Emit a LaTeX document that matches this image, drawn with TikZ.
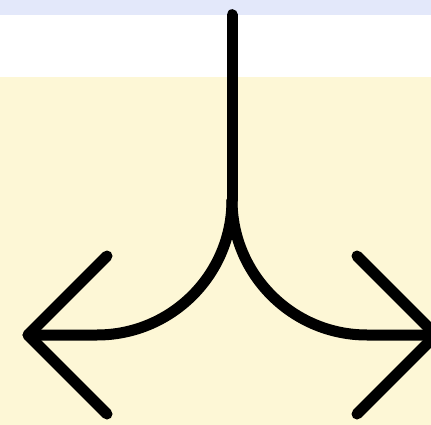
\documentclass[tikz,border=0pt]{standalone}
\usetikzlibrary{calc}
\definecolor{topband}{RGB}{227,232,250}
\definecolor{paper}{RGB}{253,247,214}
\definecolor{ink}{RGB}{0,0,0}
\tikzset{stroke/.style={draw=ink,line width=11pt,line cap=round,line join=round}}
\begin{document}
\begin{tikzpicture}[x=1pt,y=-1pt]
\useasboundingbox (0,0) rectangle (431,425);
\clip (0,0) rectangle (431,425);
\fill[topband] (0,0) rectangle (431,14.7);
\fill[paper] (0,77) rectangle (431,425);
\coordinate (top) at (232,14.7);
\coordinate (split) at (232,200);
\coordinate (lend) at (97,335);
\coordinate (rend) at (367,335);
\coordinate (ltip) at (28,335);
\coordinate (rtip) at (436,335);
\draw[stroke] (top) -- (split);
\draw[stroke] (split) .. controls (232,274.6) and (171.4,335) .. (lend) -- (ltip);
\draw[stroke] (split) .. controls (232,274.6) and (292.6,335) .. (rend) -- (rtip);
% open arrow heads
\draw[stroke] ($(ltip)+(79,-79)$) -- (ltip) -- ($(ltip)+(79,79)$);
\draw[stroke] ($(rtip)+(-79,-79)$) -- (rtip) -- ($(rtip)+(-79,79)$);
\end{tikzpicture}
\end{document}
